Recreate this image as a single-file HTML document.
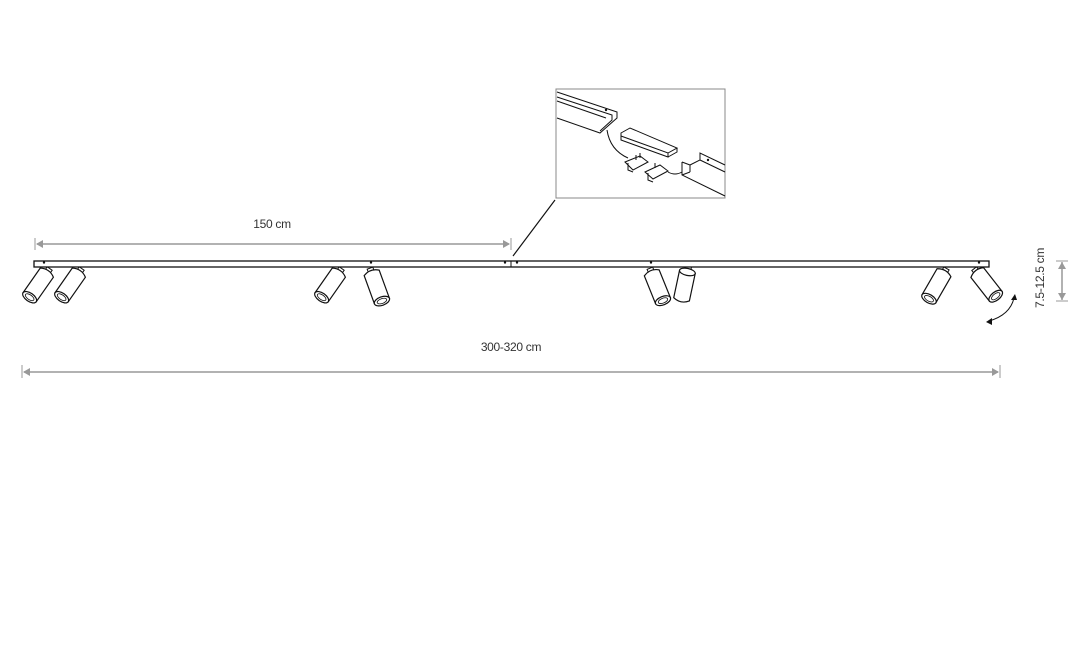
<!DOCTYPE html>
<html><head><meta charset="utf-8"><style>
html,body{margin:0;padding:0;background:#fff;}
svg{display:block;font-family:"Liberation Sans",sans-serif;}
</style></head><body>
<svg width="1075" height="650" viewBox="0 0 1075 650" xmlns="http://www.w3.org/2000/svg">
<defs>
<g id="spot">
  <rect x="-3" y="-3" width="6" height="5" fill="#fff" stroke="#111" stroke-width="1"/>
  <path d="M-8,2 Q0,-3 8,2 L8,32 L-8,32 Z" fill="#fff" stroke="#111" stroke-width="1.2"/>
  <ellipse cx="0" cy="32" rx="8" ry="4.2" fill="#fff" stroke="#111" stroke-width="1.2"/>
  <ellipse cx="0" cy="32" rx="5" ry="2.4" fill="none" stroke="#111" stroke-width="0.8"/>
</g>
<g id="spotUp">
  <rect x="-3" y="-3" width="6" height="5" fill="#fff" stroke="#111" stroke-width="1"/>
  <path d="M-8,3 L-8,31 Q0,36 8,31 L8,3 Z" fill="#fff" stroke="#111" stroke-width="1.2"/>
  <ellipse cx="0" cy="3" rx="8" ry="3.5" fill="#fff" stroke="#111" stroke-width="1.2"/>
</g>
</defs>

<line x1="35" y1="238" x2="35" y2="250" stroke="#999"/>
<line x1="511" y1="238" x2="511" y2="250" stroke="#999"/>
<line x1="37" y1="244" x2="509" y2="244" stroke="#999" stroke-width="1.5"/>
<path d="M36,244 L43,240 L43,248 Z" fill="#999"/>
<path d="M510,244 L503,240 L503,248 Z" fill="#999"/>
<text x="272" y="228" font-size="12" text-anchor="middle" fill="#333" letter-spacing="-0.3">150 cm</text>

<use href="#spot" transform="translate(48,271) rotate(35)"/>
<use href="#spot" transform="translate(80,271) rotate(35)"/>
<use href="#spot" transform="translate(340,271) rotate(35)"/>
<use href="#spot" transform="translate(371,271) rotate(-20)"/>
<use href="#spot" transform="translate(651,271) rotate(-22)"/>
<use href="#spotUp" transform="translate(688,269) rotate(12)"/>
<use href="#spot" transform="translate(945,271) rotate(30)"/>
<use href="#spot" transform="translate(976,271) rotate(-38)"/>

<rect x="34" y="261" width="955" height="6" fill="#fff" stroke="#111" stroke-width="1.3"/>
<line x1="511" y1="261" x2="511" y2="267" stroke="#111"/>
<circle cx="44" cy="262.5" r="1.2" fill="#111"/>
<circle cx="371" cy="262.5" r="1.2" fill="#111"/>
<circle cx="505" cy="262.5" r="1.2" fill="#111"/>
<circle cx="517" cy="262.5" r="1.2" fill="#111"/>
<circle cx="651" cy="262.5" r="1.2" fill="#111"/>
<circle cx="979" cy="262.5" r="1.2" fill="#111"/>

<line x1="555" y1="200" x2="513" y2="256" stroke="#111" stroke-width="1.2"/>
<rect x="556" y="89" width="169" height="109" fill="#fff" stroke="#888" stroke-width="1"/>
<g fill="none" stroke="#111" stroke-width="1">
  <path d="M557,92 L617,112 L617,118 L600,133 L557,118"/>
  <path d="M557,97 L612,115 L612,120 L600,131"/>
  <path d="M557,101 L606,118"/>
  <path d="M607,130 Q610,150 628,158"/>
  <path d="M621,133 L630,128 L677,148 L668,153 L621,136 Z"/>
  <path d="M621,136 L621,140 L668,157 L668,153"/>
  <path d="M668,157 L677,152 L677,148"/>
  <path d="M625,162 L640,156 L648,162 L633,170 Z M628,163 L628,170 L633,172 M636,160 L636,155 M640,158 L640,153"/>
  <path d="M645,172 L660,165 L668,171 L653,179 Z M648,173 L648,180 L653,182 M655,168 L655,163"/>
  <path d="M668,172 Q675,176 682,172"/>
  <path d="M682,162 L682,175 L725,196 M682,162 L690,165 L690,172 M690,165 L700,160 L700,153 L725,165 M700,160 L725,172 M682,175 L690,172"/>
</g>
<circle cx="606" cy="110" r="1.2" fill="#111"/>
<circle cx="708" cy="160" r="1.2" fill="#111"/>

<line x1="1056" y1="261" x2="1068" y2="261" stroke="#999"/>
<line x1="1056" y1="301" x2="1068" y2="301" stroke="#999"/>
<line x1="1062" y1="262" x2="1062" y2="300" stroke="#999" stroke-width="1.5"/>
<path d="M1062,262 L1058,269 L1066,269 Z" fill="#999"/>
<path d="M1062,300 L1058,293 L1066,293 Z" fill="#999"/>
<text transform="translate(1044,278) rotate(-90)" font-size="12" text-anchor="middle" fill="#333" letter-spacing="-0.3">7.5-12.5 cm</text>

<path d="M1014,298 Q1010,315 989,321" fill="none" stroke="#111" stroke-width="1"/>
<path d="M1015,294 L1011,300 L1017,300 Z" fill="#111"/>
<path d="M986,322 L992,318 L992,325 Z" fill="#111"/>

<line x1="22" y1="365" x2="22" y2="378" stroke="#999"/>
<line x1="1000" y1="365" x2="1000" y2="378" stroke="#999"/>
<line x1="24" y1="372" x2="998" y2="372" stroke="#999" stroke-width="1.5"/>
<path d="M23,372 L30,368 L30,376 Z" fill="#999"/>
<path d="M999,372 L992,368 L992,376 Z" fill="#999"/>
<text x="511" y="351" font-size="12" text-anchor="middle" fill="#333" letter-spacing="-0.3">300-320 cm</text>
</svg>
</body></html>
